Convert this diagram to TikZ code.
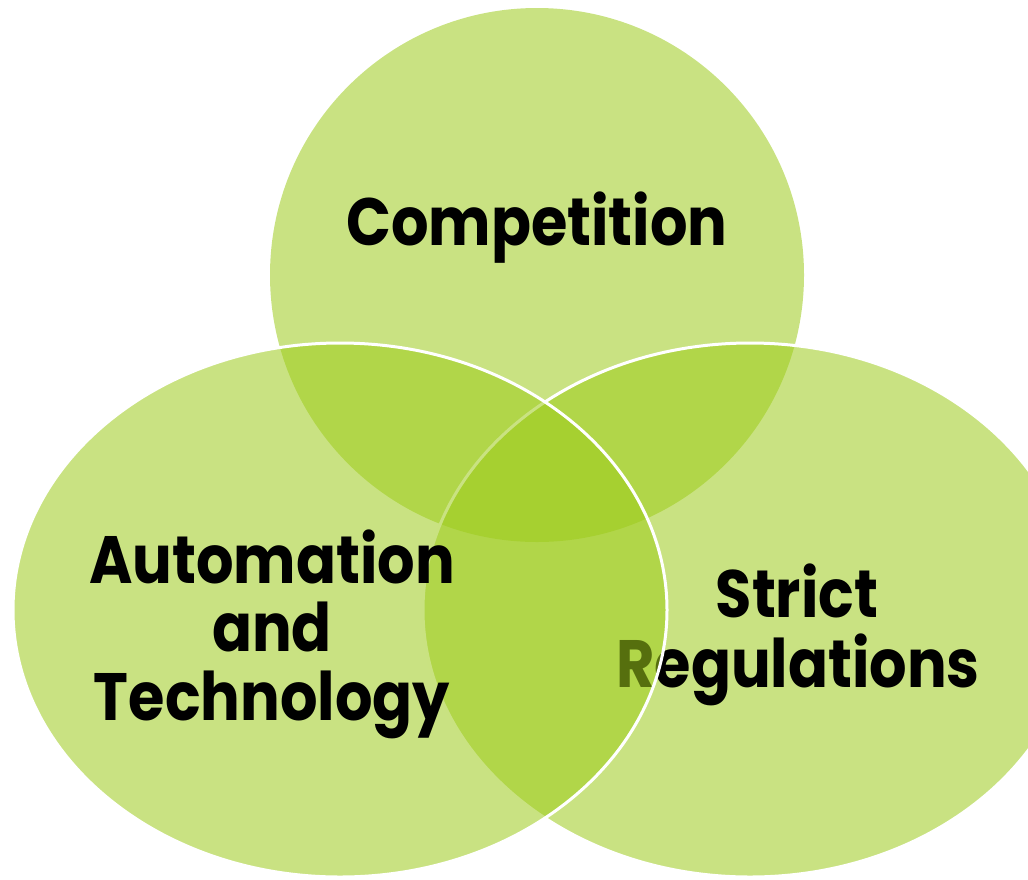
\documentclass[tikz,border=0pt]{standalone}
\usepackage{fontspec}
\setmainfont{Poppins}
\definecolor{vgreen}{RGB}{157,203,27}
\newcommand{\narrowtxt}[1]{\scalebox{0.88}[1]{#1}}
\begin{document}
\begin{tikzpicture}[x=1pt,y=-1pt,
  venn/.style={fill=vgreen, fill opacity=0.55},
  outl/.style={draw=white, line width=3pt},
  lab/.style={anchor=base, inner sep=0pt, text=black, font=\fontsize{67}{69}\selectfont\bfseries}]
\useasboundingbox (0,0) rectangle (1028,879);
% top circle
\path[venn] (537,275) circle[radius=267];
\node[lab] (comp) at (537,245) {\narrowtxt{Competition}};
% right ellipse
\path[venn, outl] (750,610) ellipse[x radius=327, y radius=267];
\node[lab] (strict) at (797,617) {\narrowtxt{Strict}};
\node[lab] (regul) at (798,687) {\narrowtxt{Regulations}};
% left ellipse
\path[venn, outl] (340,610) ellipse[x radius=327, y radius=267];
\node[lab] (autom) at (272,583) {\narrowtxt{Automation}};
\node[lab] (and) at (272,651) {\narrowtxt{and}};
\node[lab] (tech) at (272,720) {\narrowtxt{Technology}};
\end{tikzpicture}
\end{document}
